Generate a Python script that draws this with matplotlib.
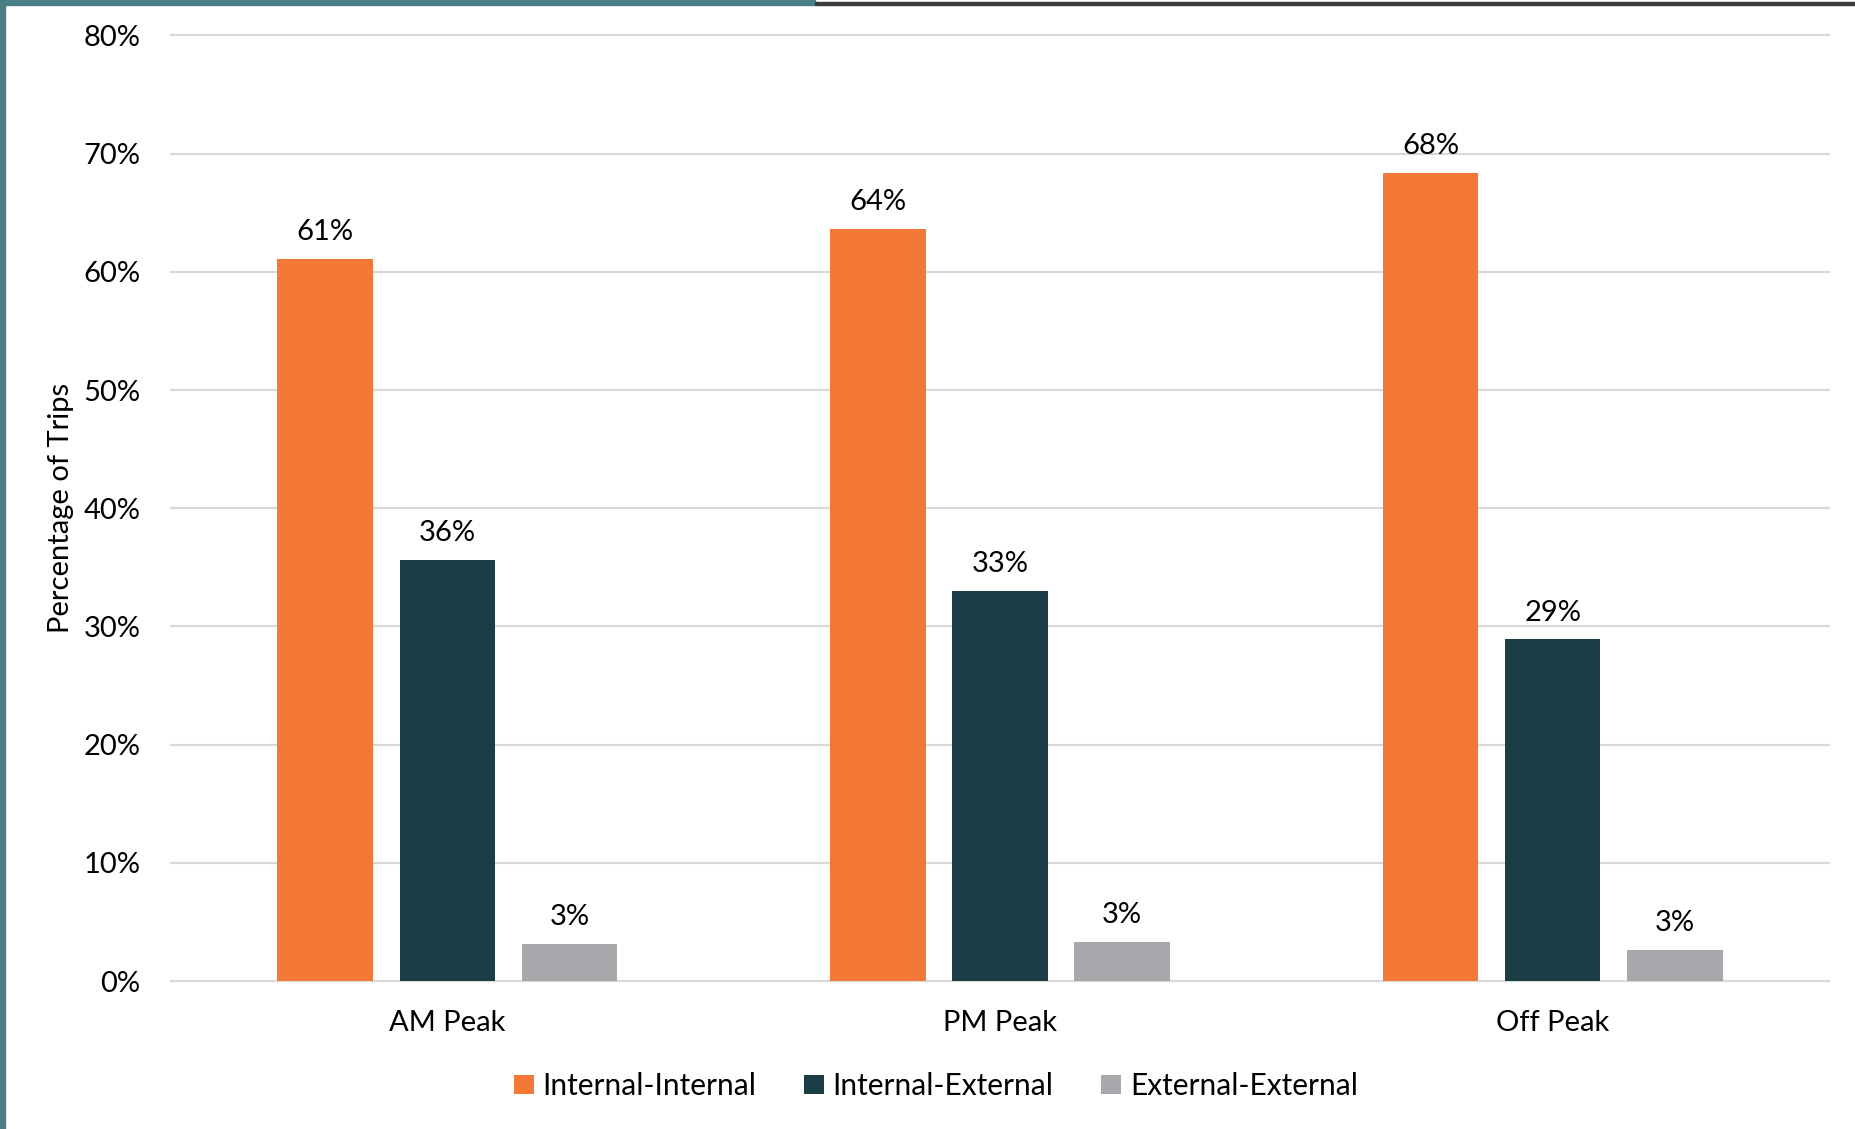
import matplotlib
matplotlib.use("Agg")
import matplotlib.pyplot as plt
import numpy as np
from matplotlib.patches import Rectangle
from matplotlib.ticker import PercentFormatter

categories = ["AM Peak", "PM Peak", "Off Peak"]
series_names = ["Internal-Internal", "Internal-External", "External-External"]
internal_internal = [61.1, 63.6, 68.4]
internal_external = [35.6, 33.0, 28.9]
external_external = [3.1, 3.3, 2.6]
labels_ii = ["61%", "64%", "68%"]
labels_ie = ["36%", "33%", "29%"]
labels_ee = ["3%", "3%", "3%"]
colors = ["#F47937", "#1B3D46", "#A7A8AB"]

plt.rcParams['font.family'] = ['Lato', 'DejaVu Sans']

W, H = 1855, 1129
fig = plt.figure(figsize=(W/100, H/100), dpi=100)
ax = fig.add_axes([171/W, 1 - 981/H, (1829-171)/W, (981-35.5)/H])

x = np.arange(len(categories))
width = 0.173
offset = 0.221
series = [internal_internal, internal_external, external_external]
labels = [labels_ii, labels_ie, labels_ee]
for i, (vals, lab) in enumerate(zip(series, labels)):
    xs = x + (i - 1) * offset
    bars = ax.bar(xs, vals, width, color=colors[i], label=series_names[i], zorder=3)
    for b, t in zip(bars, lab):
        ax.annotate(t, (b.get_x() + b.get_width()/2, b.get_height()),
                    xytext=(0, 10), textcoords="offset points",
                    ha="center", va="bottom", fontsize=21, color="#000000")

ax.set_xlim(-0.5, 2.5)
ax.set_ylim(0, 80)
ax.set_yticks(np.arange(0, 81, 10))
ax.yaxis.set_major_formatter(PercentFormatter(decimals=0))
ax.set_xticks(x)
ax.set_xticklabels(categories)
ax.grid(axis="y", color="#D9D9D9", linewidth=1.5, zorder=0)
for gl in ax.get_ygridlines():
    gl.set_clip_on(False)
ax.set_axisbelow(True)
for s in ["top", "right", "left"]:
    ax.spines[s].set_visible(False)
ax.spines["bottom"].set_color("#D9D9D9")
ax.spines["bottom"].set_linewidth(1.5)
ax.tick_params(axis="y", length=0, labelsize=21, colors="#000000", pad=22)
ax.tick_params(axis="x", length=0, labelsize=21, colors="#000000", pad=21)
ax.set_ylabel("Percentage of Trips", fontsize=21)
ax.yaxis.set_label_coords(-(171-74)/(1829-171), 0.5)

leg = fig.legend(loc="center", bbox_to_anchor=(936/W, 1 - 1086/H), ncol=3,
                 frameon=False, fontsize=21.5, handlelength=0.65, handleheight=0.65,
                 handletextpad=0.3, columnspacing=1.6)

# frame decoration
fig.patches.append(Rectangle((0, 0), 5/W, 1, transform=fig.transFigure,
                             color="#4A7F86", zorder=10))
fig.patches.append(Rectangle((0, 1 - 5/H), 815/W, 5/H, transform=fig.transFigure,
                             color="#4A7F86", zorder=10))
fig.patches.append(Rectangle((815/W, 1 - 5/H), 1 - 815/W, 2.5/H, transform=fig.transFigure,
                             color="#3A3A3A", zorder=10))

fig.savefig("out.png", dpi=100)
